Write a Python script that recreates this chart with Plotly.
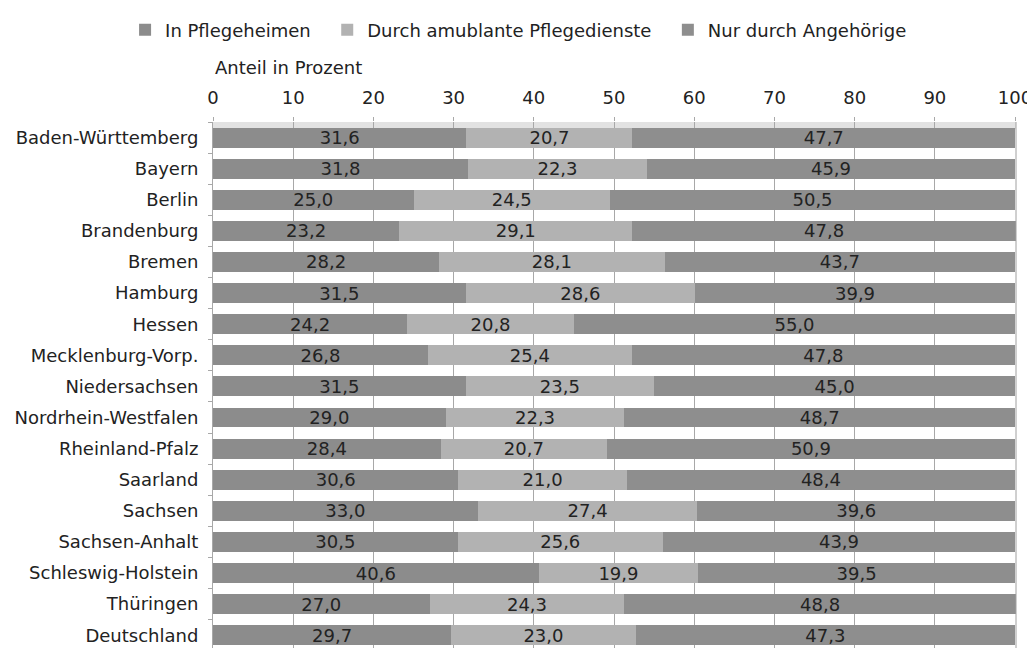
import plotly.graph_objects as go

laender = ["Baden-Württemberg", "Bayern", "Berlin", "Brandenburg", "Bremen", "Hamburg",
           "Hessen", "Mecklenburg-Vorp.", "Niedersachsen", "Nordrhein-Westfalen",
           "Rheinland-Pfalz", "Saarland", "Sachsen", "Sachsen-Anhalt",
           "Schleswig-Holstein", "Thüringen", "Deutschland"]
pflegeheime = [31.6, 31.8, 25.0, 23.2, 28.2, 31.5, 24.2, 26.8, 31.5, 29.0, 28.4, 30.6, 33.0, 30.5, 40.6, 27.0, 29.7]
ambulant = [20.7, 22.3, 24.5, 29.1, 28.1, 28.6, 20.8, 25.4, 23.5, 22.3, 20.7, 21.0, 27.4, 25.6, 19.9, 24.3, 23.0]
angehoerige = [47.7, 45.9, 50.5, 47.8, 43.7, 39.9, 55.0, 47.8, 45.0, 48.7, 50.9, 48.4, 39.6, 43.9, 39.5, 48.8, 47.3]
serien = ["In Pflegeheimen", "Durch amublante Pflegedienste", "Nur durch Angehörige"]
xticks = [0, 10, 20, 30, 40, 50, 60, 70, 80, 90, 100]

farben = ["#8c8c8c", "#b2b2b2", "#8e8e8e"]
font = "DejaVu Sans, Verdana, sans-serif"
txtcol = "#222222"
FS = 18
PAD = "\u00a0\u00a0"

def fmt(v):
    return f"{v:.1f}".replace(".", ",")

fig = go.Figure()
for name, vals, col in zip(serien, [pflegeheime, ambulant, angehoerige], farben):
    fig.add_trace(go.Bar(
        y=laender, x=vals, name=name + PAD, orientation="h",
        marker=dict(color=col, line=dict(width=0)),
        width=0.64,
        text=[fmt(v) for v in vals], textposition="inside",
        insidetextanchor="middle",
        textfont=dict(family=font, size=FS, color=txtcol),
        textangle=0,
    ))

# page has an 8px body margin; figure is sized to fit the 1035x648 viewport
fig.update_layout(
    barmode="stack",
    width=1027, height=640,
    margin=dict(l=205, r=19, t=114, b=0, pad=0),
    paper_bgcolor="white", plot_bgcolor="white",
    font=dict(family=font, size=FS, color=txtcol),
    uniformtext=dict(mode="show", minsize=FS),
    legend=dict(orientation="h", xref="container", x=0.114, xanchor="left",
                yref="container", y=1 - 22 / 640, yanchor="middle",
                font=dict(family=font, size=FS, color=txtcol),
                itemwidth=30, traceorder="normal"),
    showlegend=True,
)

fig.update_xaxes(
    side="top", range=[0, 100.12], tickvals=xticks, ticktext=[str(t) for t in xticks],
    showgrid=True, gridcolor="#a8a8a8", gridwidth=1,
    ticks="outside", ticklen=4, tickcolor="#a8a8a8",
    tickfont=dict(family=font, size=FS, color=txtcol),
    ticklabelstandoff=6,
    showline=False, zeroline=False, automargin=False,
)
fig.update_yaxes(
    categoryorder="array", categoryarray=laender,
    range=[16.41, -0.5], autorange=False,
    tickfont=dict(family=font, size=FS, color=txtcol),
    ticks="outside", ticklen=4, tickcolor="#a8a8a8", tickson="boundaries",
    ticklabelstandoff=10,
    showline=True, linecolor="#a8a8a8", linewidth=1,
    showgrid=False, zeroline=False, automargin=False,
)

# light band at top of plot area and right border
fig.add_shape(type="rect", xref="paper", yref="paper", x0=0, x1=1, y0=0.986, y1=1.0,
              fillcolor="#e2e2e2", line=dict(width=0), layer="below")
fig.add_shape(type="line", xref="paper", yref="paper", x0=1, x1=1, y0=0, y1=1,
              line=dict(color="#a0a0a0", width=1))

fig.add_annotation(text="Anteil in Prozent", xref="paper", yref="paper",
                   x=0, y=1, yshift=55, xanchor="left", yanchor="middle",
                   showarrow=False, font=dict(family=font, size=FS, color=txtcol))

fig.write_html("out.html")
